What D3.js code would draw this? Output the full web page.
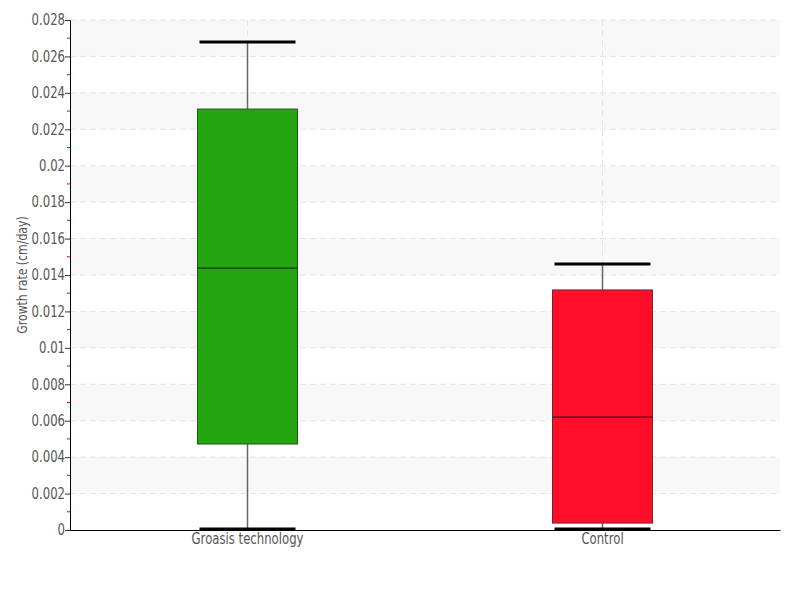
<!DOCTYPE html>
<html><head><meta charset="utf-8">
<script src="https://cdn.jsdelivr.net/npm/d3@7"></script>
<style>body{margin:0;background:#fff}svg{display:block}text{font-family:"DejaVu Sans",sans-serif;fill:#555}</style>
</head><body>
<svg id="c" width="800" height="600"></svg>
<script>
const categories = ["Groasis technology", "Control"];
const minVals = [0.00005, 0.00005];
const q1Vals = [0.00472, 0.00038];
const medianVals = [0.01438, 0.0062];
const q3Vals = [0.02311, 0.01318];
const maxVals = [0.02679, 0.0146];
const colors = ["#22a50f", "#ff0d29"];
const strokeColors = ["#1e5a16", "#6b2a30"];
const yTicks = d3.range(0, 0.0281, 0.002);
const yMinor = d3.range(0.001, 0.028, 0.002);

const svg = d3.select("#c");
const m = {l:70, r:20, t:20, b:70};
const W = 800, H = 600;
const SX = 0.78;
const x = d3.scaleBand().domain(categories).range([m.l, W - m.r]);
const y = d3.scaleLinear().domain([0, 0.028]).range([H - m.b, m.t]);

// alternating bands
const bands = d3.range(0, 14).filter(i => i % 2 === 1);
svg.append("g").selectAll("rect").data(bands).join("rect")
  .attr("x", m.l).attr("width", W - m.r - m.l)
  .attr("y", i => y((i + 1) * 0.002)).attr("height", i => y(i * 0.002) - y((i + 1) * 0.002))
  .attr("fill", "#f8f8f8");

// grid
svg.append("g").selectAll("line").data(yTicks.slice(1)).join("line")
  .attr("x1", m.l).attr("x2", W - m.r).attr("y1", d => y(d)).attr("y2", d => y(d))
  .attr("stroke", "#e4e4e4").attr("stroke-dasharray", "6,4");
svg.append("g").selectAll("line").data(categories).join("line")
  .attr("x1", d => x(d) + x.bandwidth()/2).attr("x2", d => x(d) + x.bandwidth()/2)
  .attr("y1", m.t).attr("y2", H - m.b)
  .attr("stroke", "#e4e4e4").attr("stroke-dasharray", "6,4");

// boxes
const bw = 100, cw = 96;
categories.forEach((c, i) => {
  const cx = x(c) + x.bandwidth()/2;
  const g = svg.append("g");
  g.append("line").attr("x1", cx).attr("x2", cx).attr("y1", y(maxVals[i])).attr("y2", y(q3Vals[i]))
    .attr("stroke", "#666").attr("stroke-width", 1.5);
  g.append("line").attr("x1", cx).attr("x2", cx).attr("y1", y(q1Vals[i])).attr("y2", y(minVals[i]))
    .attr("stroke", "#666").attr("stroke-width", 1.5);
  g.append("rect").attr("x", cx - bw/2).attr("width", bw)
    .attr("y", y(q3Vals[i])).attr("height", y(q1Vals[i]) - y(q3Vals[i]))
    .attr("fill", colors[i]).attr("stroke", strokeColors[i]).attr("stroke-width", 1);
  g.append("line").attr("x1", cx - bw/2).attr("x2", cx + bw/2).attr("y1", y(medianVals[i])).attr("y2", y(medianVals[i]))
    .attr("stroke", "#111").attr("stroke-width", 1);
  [maxVals[i], minVals[i]].forEach(v => {
    g.append("line").attr("x1", cx - cw/2).attr("x2", cx + cw/2).attr("y1", y(v)).attr("y2", y(v))
      .attr("stroke", "#000").attr("stroke-width", 3);
  });
});

// y axis
const ya = svg.append("g").attr("transform", `translate(${m.l},0)`)
  .call(d3.axisLeft(y).tickValues(yTicks).tickFormat(d => d3.format("")(+d.toFixed(3))).tickSize(5).tickPadding(0));
ya.select(".domain").attr("stroke", "#000");
ya.selectAll(".tick line").attr("stroke", "#333");
ya.selectAll("text").style("font-size", "15px").attr("fill", "#555")
  .attr("x", -5 / SX).attr("transform", `scale(${SX},1)`);
svg.append("g").selectAll("line").data(yMinor).join("line")
  .attr("x1", m.l - 3).attr("x2", m.l).attr("y1", d => y(d)).attr("y2", d => y(d))
  .attr("stroke", "#e00");

// x axis
const xa = svg.append("g").attr("transform", `translate(0,${H - m.b})`)
  .call(d3.axisBottom(x).tickSize(0).tickPadding(3));
xa.select(".domain").attr("stroke", "#000");
xa.selectAll("text").style("font-size", "15px").attr("fill", "#555").attr("transform", `scale(${SX},1)`);

svg.append("text").attr("transform", `translate(27,${(m.t + H - m.b)/2}) rotate(-90) scale(${SX},1)`)
  .attr("text-anchor", "middle").style("font-size", "14px").text("Growth rate (cm/day)");
</script>
</body></html>
